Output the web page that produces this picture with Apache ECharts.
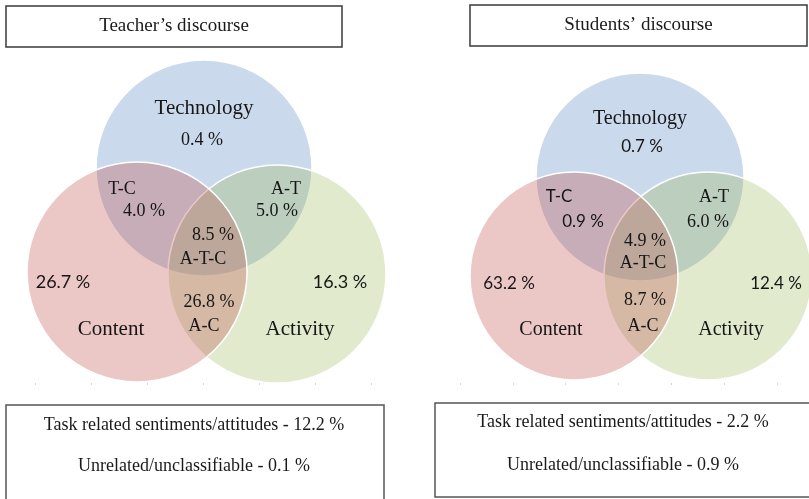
<!DOCTYPE html>
<html><head><meta charset="utf-8">
<script src="https://cdn.jsdelivr.net/npm/echarts@6/dist/echarts.min.js"></script>
<style>html,body{margin:0;padding:0;background:#fff}#c{width:809px;height:499px}</style>
</head><body><div id="c"></div>
<script>
// ---- DATA ----
const panelTitles = ['Teacher\u2019s discourse', 'Students\u2019 discourse'];
const setNames = ['Technology', 'Content', 'Activity'];
const regionLabels = ['Technology', 'T-C', 'A-T', 'A-T-C', 'Content', 'Activity', 'A-C'];
const teacherValues = [0.4, 4.0, 5.0, 8.5, 26.7, 16.3, 26.8];
const studentValues = [0.7, 0.9, 6.0, 4.9, 63.2, 12.4, 8.7];
const otherCategories = ['Task related sentiments/attitudes', 'Unrelated/unclassifiable'];
const teacherOther = [12.2, 0.1];
const studentOther = [2.2, 0.9];
const panelValues = [teacherValues, studentValues];
const panelOther = [teacherOther, studentOther];

// ---- LAYOUT / STYLE ----
const SERIF = '"Liberation Serif","Times New Roman",serif';
const SANS = 'Lato,"Open Sans",sans-serif';
const setColors = ['rgba(79,129,189,0.30)', 'rgba(192,80,77,0.32)', 'rgba(155,187,89,0.30)'];
const drawOrder = [0, 2, 1]; // Technology, Activity, Content (Content on top)
const layouts = [
  {
    circles: [[204, 168, 108], [137, 272, 110], [277, 274, 109]],
    namePos: [[204, 108], [122, 189], [286, 189], [203, 259], [111, 329], [300, 329], [204, 326]],
    nameFont: [[SERIF, 21], [SERIF, 18], [SERIF, 18], [SERIF, 18], [SERIF, 21], [SERIF, 21], [SERIF, 18]],
    valuePos: [[202, 140], [144, 211], [277, 211], [213, 235], [63, 282], [340, 282], [209, 302]],
    valueFont: [[SERIF, 18], [SERIF, 18], [SERIF, 18], [SERIF, 18], [SANS, 18], [SANS, 18], [SERIF, 18]],
    titleBox: [6, 6, 336, 41], bottomBox: [6, 405, 378, 110], lineY: [425, 466],
    ticks: { left: 35, width: 336 }
  },
  {
    circles: [[640, 177, 104], [574, 276, 104], [708, 276, 104]],
    namePos: [[640, 119], [559, 197], [714, 197], [643, 263], [551, 330], [731, 330], [643, 326]],
    nameFont: [[SERIF, 20], [SANS, 17], [SERIF, 18], [SERIF, 18], [SERIF, 20], [SERIF, 20], [SERIF, 18]],
    valuePos: [[642, 147], [583, 222], [708, 222], [645, 241], [509, 284], [776, 284], [645, 300]],
    valueFont: [[SANS, 17], [SANS, 17], [SERIF, 18], [SERIF, 18], [SANS, 17], [SANS, 17], [SERIF, 18]],
    titleBox: [470, 5, 337, 41], bottomBox: [435, 403, 400, 94], lineY: [422, 465],
    ticks: { left: 460, width: 317 }
  }
];

const circleData = [];
layouts.forEach((L, p) => drawOrder.forEach(s => { const c = L.circles[s]; circleData.push([c[0], c[1], c[2], s, p]); }));
const labelData = [];
layouts.forEach((L, p) => regionLabels.forEach((_, i) => { labelData.push([0, 0, p, i, 0]); labelData.push([0, 0, p, i, 1]); }));

function renderCircle(params, api) {
  const c = api.coord([api.value(0), api.value(1)]);
  const r = api.size([api.value(2), 0])[0];
  return {
    type: 'circle',
    shape: { cx: c[0], cy: c[1], r: r },
    style: { fill: setColors[api.value(3)], stroke: '#ffffff', lineWidth: 1.5 }
  };
}
function renderLabel(params, api) {
  const p = api.value(2), i = api.value(3), k = api.value(4);
  const L = layouts[p];
  const pos = k === 0 ? L.namePos[i] : L.valuePos[i];
  const f = k === 0 ? L.nameFont[i] : L.valueFont[i];
  const txt = k === 0 ? regionLabels[i] : panelValues[p][i].toFixed(1) + ' %';
  const c = api.coord(pos);
  return {
    type: 'text', x: c[0], y: c[1],
    style: { text: txt, fontFamily: f[0], fontSize: f[1], fill: '#161616', align: 'center', verticalAlign: 'middle' }
  };
}

const graphics = [];
layouts.forEach((L, p) => {
  const t = L.titleBox;
  graphics.push({ type: 'rect', shape: { x: t[0], y: t[1], width: t[2], height: t[3] }, style: { fill: '#fff', stroke: '#3a3a3a', lineWidth: 1.5 }, z: 10 });
  graphics.push({ type: 'text', x: t[0] + t[2] / 2, y: t[1] + t[3] / 2, style: { text: panelTitles[p], font: '19px ' + SERIF, fill: '#1a1a1a', align: 'center', verticalAlign: 'middle' }, z: 11 });
  const b = L.bottomBox;
  graphics.push({ type: 'rect', shape: { x: b[0], y: b[1], width: b[2], height: b[3] }, style: { fill: '#fff', stroke: '#555', lineWidth: 1.5 }, z: 10 });
  otherCategories.forEach((cat, i) => {
    graphics.push({ type: 'text', x: p === 0 ? 194 : 623, y: L.lineY[i], style: { text: cat + ' - ' + panelOther[p][i].toFixed(1) + ' %', font: '18px ' + SERIF, fill: '#1a1a1a', align: 'center', verticalAlign: 'middle' }, z: 11 });
  });
});

const chart = echarts.init(document.getElementById('c'), null, { renderer: 'canvas' });
chart.setOption({
  animation: false,
  backgroundColor: '#ffffff',
  grid: [
    { left: 0, top: 0, width: 809, height: 499 },
    { left: layouts[0].ticks.left, width: layouts[0].ticks.width, top: 381, height: 2 },
    { left: layouts[1].ticks.left, width: layouts[1].ticks.width, top: 381, height: 2 }
  ],
  xAxis: [
    { gridIndex: 0, type: 'value', min: 0, max: 809, show: false },
    { gridIndex: 1, type: 'value', min: 0, max: 6, interval: 1, axisLine: { show: false }, axisLabel: { show: false }, splitLine: { show: false }, axisTick: { show: true, length: 2, lineStyle: { color: '#d6d6d6' } } },
    { gridIndex: 2, type: 'value', min: 0, max: 6, interval: 1, axisLine: { show: false }, axisLabel: { show: false }, splitLine: { show: false }, axisTick: { show: true, length: 2, lineStyle: { color: '#d6d6d6' } } }
  ],
  yAxis: [
    { gridIndex: 0, type: 'value', min: 0, max: 499, inverse: true, show: false },
    { gridIndex: 1, type: 'value', show: false },
    { gridIndex: 2, type: 'value', show: false }
  ],
  graphic: graphics,
  series: [
    { type: 'custom', name: 'sets', xAxisIndex: 0, yAxisIndex: 0, renderItem: renderCircle, data: circleData, silent: true, clip: false },
    { type: 'custom', name: 'labels', xAxisIndex: 0, yAxisIndex: 0, renderItem: renderLabel, data: labelData, silent: true, clip: false, z: 5 }
  ]
});
</script>
</body></html>
